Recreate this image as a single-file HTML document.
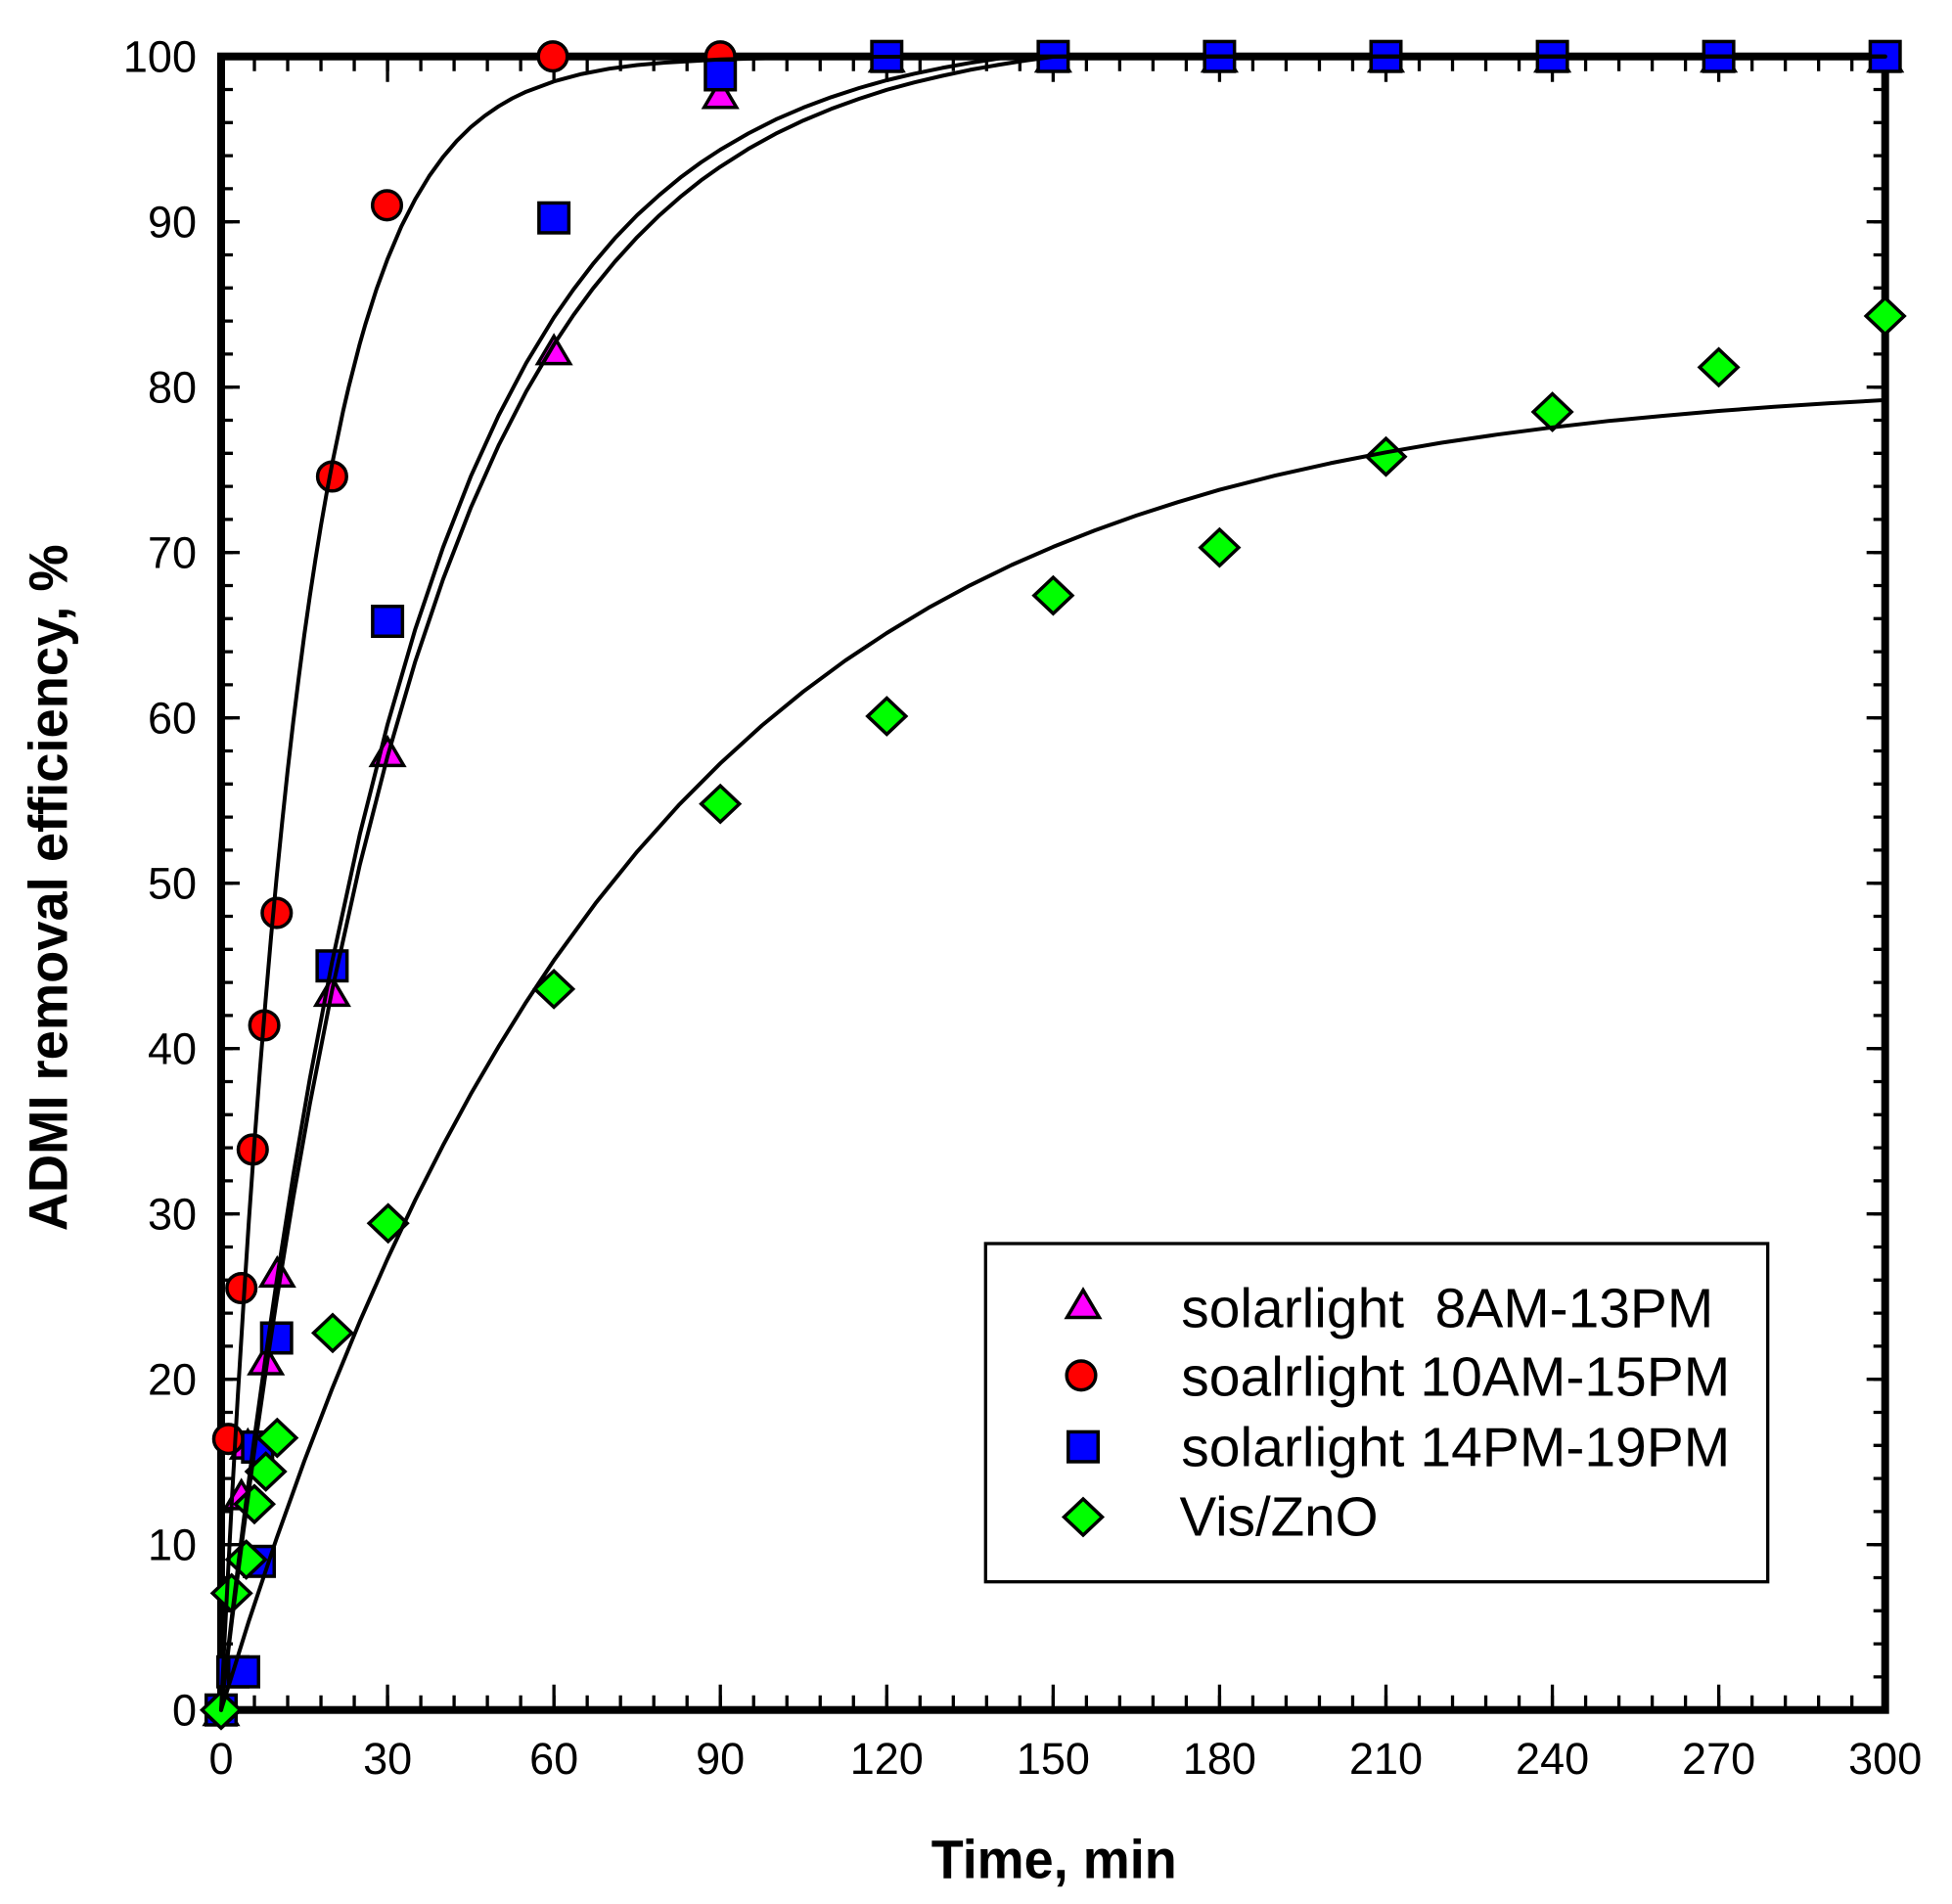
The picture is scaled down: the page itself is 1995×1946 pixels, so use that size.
<!DOCTYPE html>
<html>
<head>
<meta charset="utf-8">
<style>
html,body{margin:0;padding:0;background:#ffffff;}
svg{display:block;}
text{font-family:"Liberation Sans",Arial,sans-serif;fill:#000;}
</style>
</head>
<body>
<svg width="1995" height="1946" viewBox="0 0 1995 1946" xmlns="http://www.w3.org/2000/svg" xmlns:xlink="http://www.w3.org/1999/xlink">
<defs>
  <path id="tri" d="M0,-13.15 L16.5,14.85 L-16.5,14.85 Z" fill="#ff00ff" stroke="#000" stroke-width="3.5" stroke-linejoin="miter"/>
  <circle id="cir" cx="0" cy="0" r="14.8" fill="#ff0000" stroke="#000" stroke-width="3.5"/>
  <rect id="sq" x="-15.25" y="-15.25" width="30.5" height="30.5" fill="#0000ff" stroke="#000" stroke-width="3.5"/>
  <path id="dia" d="M0,-18.5 L19.5,0 L0,18.5 L-19.5,0 Z" fill="#00ff00" stroke="#000" stroke-width="3.5"/>
</defs>

<rect x="0" y="0" width="1995" height="1946" fill="#fff"/>

<!-- ticks -->
<g stroke="#000" fill="none">
  <line x1="224.35" y1="1740.2" x2="1928.35" y2="1740.2" stroke-width="15" stroke-dasharray="3.3 30.714"/>
  <line x1="224.35" y1="1734.7" x2="1928.35" y2="1734.7" stroke-width="26" stroke-dasharray="3.3 166.77"/>
  <line x1="224.35" y1="65.2" x2="1928.35" y2="65.2" stroke-width="15" stroke-dasharray="3.3 30.714"/>
  <line x1="224.35" y1="70.7" x2="1928.35" y2="70.7" stroke-width="26" stroke-dasharray="3.3 166.77"/>
  <line x1="232" y1="56.05" x2="232" y2="1749.35" stroke-width="12" stroke-dasharray="3.3 30.5"/>
  <line x1="235.5" y1="56.05" x2="235.5" y2="1749.35" stroke-width="19" stroke-dasharray="3.3 165.7"/>
  <line x1="1920.7" y1="56.05" x2="1920.7" y2="1749.35" stroke-width="12" stroke-dasharray="3.3 30.5"/>
  <line x1="1917.2" y1="56.05" x2="1917.2" y2="1749.35" stroke-width="19" stroke-dasharray="3.3 165.7"/>
</g>

<!-- axis frame -->
<rect x="226" y="57.7" width="1700.7" height="1690" fill="none" stroke="#000" stroke-width="8"/>

<!-- y tick labels -->
<g font-size="45" text-anchor="end">
  <text x="201" y="1763.7">0</text>
  <text x="201" y="1594.7">10</text>
  <text x="201" y="1425.7">20</text>
  <text x="201" y="1256.7">30</text>
  <text x="201" y="1087.7">40</text>
  <text x="201" y="918.7">50</text>
  <text x="201" y="749.7">60</text>
  <text x="201" y="580.7">70</text>
  <text x="201" y="411.7">80</text>
  <text x="201" y="242.7">90</text>
  <text x="201" y="73.7">100</text>
</g>

<!-- x tick labels -->
<g font-size="45" text-anchor="middle">
  <text x="226" y="1813">0</text>
  <text x="396.1" y="1813">30</text>
  <text x="566.1" y="1813">60</text>
  <text x="736.2" y="1813">90</text>
  <text x="906.3" y="1813">120</text>
  <text x="1076.4" y="1813">150</text>
  <text x="1246.4" y="1813">180</text>
  <text x="1416.5" y="1813">210</text>
  <text x="1586.6" y="1813">240</text>
  <text x="1756.6" y="1813">270</text>
  <text x="1926.7" y="1813">300</text>
</g>

<!-- axis titles -->
<text x="951.7" y="1919.3" font-size="56" font-weight="bold" textLength="251" lengthAdjust="spacingAndGlyphs">Time, min</text>
<text transform="translate(68.3,1258.3) rotate(-90)" x="0" y="0" font-size="56" font-weight="bold" textLength="702" lengthAdjust="spacingAndGlyphs">ADMI removal efficiency, %</text>

<!-- triangles: solarlight 8AM-13PM -->
<g>
  <use href="#tri" xlink:href="#tri" x="226" y="1747.7"/>
  <use href="#tri" xlink:href="#tri" x="246.7" y="1527"/>
  <use href="#tri" xlink:href="#tri" x="253.3" y="1475.3"/>
  <use href="#tri" xlink:href="#tri" x="271.7" y="1389.2"/>
  <use href="#tri" xlink:href="#tri" x="283.3" y="1299.5"/>
  <use href="#tri" xlink:href="#tri" x="339.4" y="1012.5"/>
  <use href="#tri" xlink:href="#tri" x="396.1" y="767.5"/>
  <use href="#tri" xlink:href="#tri" x="566.1" y="356.8"/>
  <use href="#tri" xlink:href="#tri" x="736.2" y="94.9"/>
  <use href="#tri" xlink:href="#tri" x="906.3" y="57.7"/>
  <use href="#tri" xlink:href="#tri" x="1076.4" y="57.7"/>
  <use href="#tri" xlink:href="#tri" x="1246.4" y="57.7"/>
  <use href="#tri" xlink:href="#tri" x="1416.5" y="57.7"/>
  <use href="#tri" xlink:href="#tri" x="1586.6" y="57.7"/>
  <use href="#tri" xlink:href="#tri" x="1756.6" y="57.7"/>
  <use href="#tri" xlink:href="#tri" x="1926.7" y="57.7"/>
</g>

<!-- circles: soalrlight 10AM-15PM -->
<g>
  <use href="#cir" xlink:href="#cir" x="226" y="1747.7"/>
  <use href="#cir" xlink:href="#cir" x="233.3" y="1470.7"/>
  <use href="#cir" xlink:href="#cir" x="246.7" y="1316.5"/>
  <use href="#cir" xlink:href="#cir" x="258.3" y="1174.9"/>
  <use href="#cir" xlink:href="#cir" x="270.1" y="1048.0"/>
  <use href="#cir" xlink:href="#cir" x="282.8" y="933.1"/>
  <use href="#cir" xlink:href="#cir" x="339.4" y="487.0"/>
  <use href="#cir" xlink:href="#cir" x="395.5" y="209.8"/>
  <use href="#cir" xlink:href="#cir" x="565.0" y="57.7"/>
  <use href="#cir" xlink:href="#cir" x="736.2" y="57.7"/>
  <use href="#cir" xlink:href="#cir" x="906.3" y="57.7"/>
  <use href="#cir" xlink:href="#cir" x="1076.4" y="57.7"/>
  <use href="#cir" xlink:href="#cir" x="1246.4" y="57.7"/>
  <use href="#cir" xlink:href="#cir" x="1416.5" y="57.7"/>
  <use href="#cir" xlink:href="#cir" x="1586.6" y="57.7"/>
  <use href="#cir" xlink:href="#cir" x="1756.6" y="57.7"/>
  <use href="#cir" xlink:href="#cir" x="1926.7" y="57.7"/>
</g>

<!-- squares: solarlight 14PM-19PM -->
<g>
  <use href="#sq" xlink:href="#sq" x="226" y="1747.7"/>
  <use href="#sq" xlink:href="#sq" x="238" y="1708.7"/>
  <use href="#sq" xlink:href="#sq" x="249" y="1708.7"/>
  <use href="#sq" xlink:href="#sq" x="265" y="1595.8"/>
  <use href="#sq" xlink:href="#sq" x="263.3" y="1479"/>
  <use href="#sq" xlink:href="#sq" x="282.7" y="1367.5"/>
  <use href="#sq" xlink:href="#sq" x="339.4" y="987.2"/>
  <use href="#sq" xlink:href="#sq" x="396.1" y="635"/>
  <use href="#sq" xlink:href="#sq" x="566.1" y="222.7"/>
  <use href="#sq" xlink:href="#sq" x="736.2" y="76.5"/>
  <use href="#sq" xlink:href="#sq" x="906.3" y="57.7"/>
  <use href="#sq" xlink:href="#sq" x="1076.4" y="57.7"/>
  <use href="#sq" xlink:href="#sq" x="1246.4" y="57.7"/>
  <use href="#sq" xlink:href="#sq" x="1416.5" y="57.7"/>
  <use href="#sq" xlink:href="#sq" x="1586.6" y="57.7"/>
  <use href="#sq" xlink:href="#sq" x="1756.6" y="57.7"/>
  <use href="#sq" xlink:href="#sq" x="1926.7" y="57.7"/>
</g>

<!-- diamonds: Vis/ZnO -->
<g>
  <use href="#dia" xlink:href="#dia" x="226" y="1747.7"/>
  <use href="#dia" xlink:href="#dia" x="236.7" y="1628.4"/>
  <use href="#dia" xlink:href="#dia" x="251.7" y="1594"/>
  <use href="#dia" xlink:href="#dia" x="260" y="1537.3"/>
  <use href="#dia" xlink:href="#dia" x="271.7" y="1504"/>
  <use href="#dia" xlink:href="#dia" x="283.3" y="1469.6"/>
  <use href="#dia" xlink:href="#dia" x="340" y="1362.4"/>
  <use href="#dia" xlink:href="#dia" x="396.7" y="1250.3"/>
  <use href="#dia" xlink:href="#dia" x="566.1" y="1010.9"/>
  <use href="#dia" xlink:href="#dia" x="736.2" y="821.6"/>
  <use href="#dia" xlink:href="#dia" x="906.3" y="732.0"/>
  <use href="#dia" xlink:href="#dia" x="1076.4" y="608.6"/>
  <use href="#dia" xlink:href="#dia" x="1246.4" y="559.6"/>
  <use href="#dia" xlink:href="#dia" x="1416.5" y="466.7"/>
  <use href="#dia" xlink:href="#dia" x="1586.6" y="421.0"/>
  <use href="#dia" xlink:href="#dia" x="1756.6" y="375.4"/>
  <use href="#dia" xlink:href="#dia" x="1926.7" y="323.0"/>
</g>

<!-- fitted curves -->
<g fill="none" stroke="#000" stroke-width="4" stroke-linejoin="round" stroke-linecap="round">
  <polyline points="226,1747.7 228.8,1689.6 231.7,1633.5 237.3,1527.0 243.0,1427.6 248.7,1335.0 254.3,1248.6 260.0,1168.0 265.7,1093.0 271.4,1023.0 277.0,957.8 282.7,897.0 288.4,840.2 294.0,787.3 299.7,737.9 305.4,692.0 311.0,649.0 316.7,609.1 322.4,571.8 328.0,537.2 333.7,504.7 339.4,474.4 350.7,420.0 356.4,395.5 367.7,351.4 373.4,331.5 384.7,295.8 396.1,264.7 410.2,231.4 424.4,203.6 438.6,180.1 452.8,160.4 466.9,143.9 481.1,130.0 495.3,118.5 509.5,108.7 523.6,100.5 537.8,93.7 566.1,83.2 594.5,75.6 622.8,70.2 651.2,66.5 679.5,64.0 736.2,60.7 792.9,59.2 906.3,58.0 1076.4,57.7 1926.7,57.7"/>
  <polyline points="226,1747.7 237.3,1649.4 248.7,1556.7 260.0,1469.5 271.4,1387.1 282.7,1309.5 299.7,1201.3 316.7,1102.3 339.4,983.2 367.7,852.9 396.1,740.3 424.4,643.1 452.8,559.5 481.1,487.1 509.5,424.8 537.8,371.0 566.1,324.5 586.0,296.0 605.8,270.1 628.5,243.4 651.2,219.9 673.9,199.3 696.5,180.6 716.4,166.0 736.2,153.0 764.6,136.5 792.9,122.1 821.2,109.9 849.6,99.3 878.0,90.0 906.3,82.0 934.6,75.3 963.0,69.4 991.3,64.3 1019.7,59.9 1036.7,57.7 1926.7,57.7"/>
  <polyline points="226,1747.7 237.3,1654.3 248.7,1565.9 260.0,1482.5 271.4,1403.5 282.7,1328.8 299.7,1224.3 316.7,1128.3 339.4,1012.2 367.7,884.1 396.1,772.9 424.4,676.1 452.8,592.1 481.1,519.1 509.5,455.4 537.8,400.1 566.1,352.1 586.0,322.2 605.8,295.2 628.5,267.4 651.2,242.4 673.9,220.1 696.5,200.3 716.4,184.4 736.2,170.4 764.6,152.3 792.9,136.6 821.2,123.1 849.6,111.3 878.0,101.0 906.3,91.8 934.6,84.2 963.0,77.5 991.3,71.4 1019.7,66.4 1048.0,61.9 1076.4,58.0 1087.7,57.7 1926.7,57.7"/>
  <polyline points="226,1747.7 254.3,1656.9 282.7,1572.3 311.0,1493.3 339.4,1419.5 367.7,1350.7 396.1,1286.5 424.4,1226.5 452.8,1170.6 481.1,1118.3 509.5,1069.7 537.8,1024.1 566.1,981.6 608.6,923.3 651.2,870.4 693.7,822.9 736.2,780.2 778.7,741.5 821.2,706.7 863.8,675.2 906.3,647.0 948.8,621.3 991.3,598.3 1033.8,577.5 1076.4,558.9 1118.9,542.1 1161.4,526.9 1203.9,513.2 1246.4,500.6 1303.1,486.1 1359.8,473.4 1416.5,462.3 1473.2,452.5 1529.9,444.2 1586.6,436.8 1643.3,430.3 1699.9,425.0 1756.6,420.0 1813.3,415.8 1870.0,412.1 1926.7,408.9"/>
</g>

<!-- legend -->
<rect x="1007.3" y="1271" width="799.4" height="345.7" fill="#fff" stroke="#000" stroke-width="3.3"/>
<use href="#tri" xlink:href="#tri" x="1107" y="1331.7"/>
<use href="#cir" xlink:href="#cir" x="1105" y="1405.8"/>
<use href="#sq" xlink:href="#sq" x="1107" y="1478.7"/>
<use href="#dia" xlink:href="#dia" x="1107" y="1550.5"/>
<g font-size="57">
  <text x="1207.3" y="1356.7" textLength="544" lengthAdjust="spacingAndGlyphs">solarlight&#160; 8AM-13PM</text>
  <text x="1207.3" y="1426.7" textLength="561" lengthAdjust="spacingAndGlyphs">soalrlight 10AM-15PM</text>
  <text x="1207.3" y="1498.3" textLength="561" lengthAdjust="spacingAndGlyphs">solarlight 14PM-19PM</text>
  <text x="1205.5" y="1569.3" textLength="203" lengthAdjust="spacingAndGlyphs">Vis/ZnO</text>
</g>
</svg>
</body>
</html>
